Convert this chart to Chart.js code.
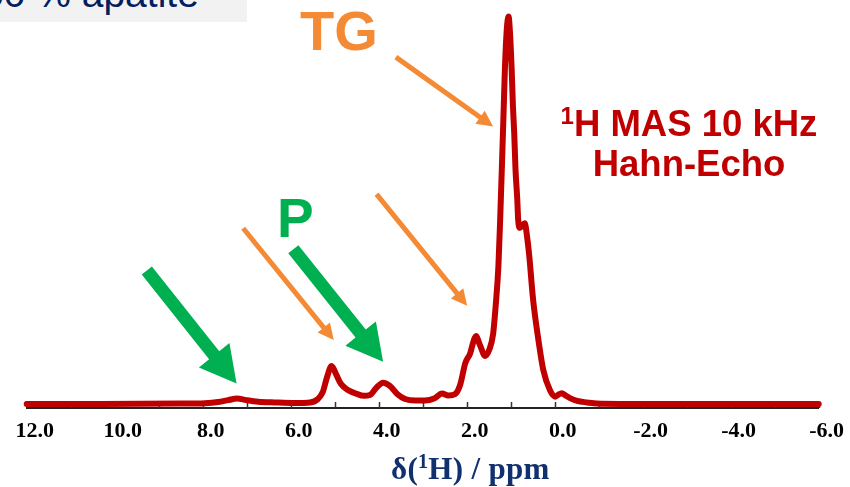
<!DOCTYPE html>
<html><head><meta charset="utf-8">
<script src="https://cdn.jsdelivr.net/npm/chart.js@4/dist/chart.umd.min.js"></script>
<style>
html,body{margin:0;padding:0;background:#fff;overflow:hidden;}
#wrap{position:relative;width:850px;height:487px;overflow:hidden;}
canvas{position:absolute;left:0;top:0;}
.lbl{position:absolute;white-space:nowrap;}
</style></head><body>
<div id="wrap">
  <div id="box" style="position:absolute;left:0;top:0;width:247px;height:22px;background:#f2f2f2;overflow:hidden;">
    <div class="lbl" style="left:-18px;top:-26px;font:39px 'Liberation Sans',Arial,sans-serif;line-height:39px;color:#002060;">50 % apatite</div>
  </div>
  <canvas id="c" width="850" height="487"></canvas>
  <div class="lbl" style="left:300px;top:3px;font:bold 56px 'Liberation Sans',Arial,sans-serif;line-height:56px;color:#f58a35;">TG</div>
  <div class="lbl" style="left:277px;top:191px;font:bold 55px 'Liberation Sans',Arial,sans-serif;line-height:55px;color:#00b050;">P</div>
  <div class="lbl" style="left:539px;top:104px;width:300px;text-align:center;font:bold 36.5px 'Liberation Sans',Arial,sans-serif;line-height:40px;color:#c00000;"><sup style="font-size:24px;line-height:0;vertical-align:12px;">1</sup>H MAS 10 kHz<br>Hahn-Echo</div>
  <div class="lbl" style="left:391px;top:453px;font:bold 31px 'Liberation Serif','Times New Roman',serif;line-height:31px;color:#10306e;letter-spacing:0.3px;">δ(<sup style="font-size:20px;line-height:0;vertical-align:11px;">1</sup>H) / ppm</div>
</div>
<script>
// ---- data ----
const ppm = [12.0, 10.33, 8.52, 7.95, 7.65, 7.42, 7.22, 7.01, 6.74, 6.36, 5.90, 5.56, 5.38, 5.27, 5.18, 5.07, 4.97, 4.86, 4.70, 4.52, 4.33, 4.20, 4.06, 3.90, 3.74, 3.58, 3.40, 3.17, 2.95, 2.74, 2.56, 2.42, 2.26, 2.15, 2.03, 1.92, 1.85, 1.79, 1.70, 1.58, 1.49, 1.40, 1.34, 1.28, 1.24, 1.20, 1.16, 1.13, 1.09, 1.05, 1.02, 0.98, 0.95, 0.92, 0.89, 0.85, 0.83, 0.79, 0.75, 0.68, 0.63, 0.58, 0.49, 0.37, 0.26, 0.11, -0.01, -0.07, -0.16, -0.25, -0.35, -0.51, -0.74, -0.96, -1.49, -6.0];
const intensity = [0, 0, 0.1, 0.2, 0.5, 1.0, 1.4, 1.0, 0.6, 0.4, 0.25, 0.4, 1.3, 3.1, 6.7, 9.8, 7.7, 5.2, 3.6, 2.7, 2.1, 2.3, 4.1, 5.5, 4.6, 2.6, 1.3, 0.9, 0.9, 1.4, 2.7, 2.2, 2.6, 4.9, 10.6, 13.1, 16.0, 17.5, 15.2, 12.4, 13.9, 18.0, 25.5, 35.4, 47.4, 61.2, 75.8, 86.9, 96.4, 99.9, 96.4, 86.9, 77, 69.8, 60.3, 52.6, 47.4, 45.4, 45.9, 46.6, 43.3, 38.4, 26.8, 16.5, 8.8, 3.6, 1.9, 2.3, 2.8, 2.2, 1.5, 0.8, 0.4, 0.1, 0, 0];
const labeledTicks = [12, 10, 8, 6, 4, 2, 0, -2, -4, -6];
const tickLabels = ['12.0', '10.0', '8.0', '6.0', '4.0', '2.0', '0.0', '-2.0', '-4.0', '-6.0'];
// arrows: [from ppm, from intensity, to ppm, to intensity]
const greenArrows = [[9.27, 34.4, 7.23, 5.3], [5.94, 39.9, 3.90, 10.9]];
const orangeArrows = [[7.08, 45.3, 5.02, 16.5], [4.05, 54.1, 1.99, 25.3], [3.61, 89.4, 1.40, 71.5]];

const points = ppm.map((p, i) => ({x: p, y: intensity[i]}));

function drawArrow(c, x0, y0, x1, y1, w, hw, hl, color) {
  const dx = x1 - x0, dy = y1 - y0, L = Math.hypot(dx, dy);
  const ux = dx / L, uy = dy / L, nx = -uy, ny = ux;
  const bx = x1 - ux * hl, by = y1 - uy * hl;
  c.beginPath();
  c.moveTo(x0 + nx * w / 2, y0 + ny * w / 2);
  c.lineTo(bx + nx * w / 2, by + ny * w / 2);
  c.lineTo(bx + nx * hw / 2, by + ny * hw / 2);
  c.lineTo(x1, y1);
  c.lineTo(bx - nx * hw / 2, by - ny * hw / 2);
  c.lineTo(bx - nx * w / 2, by - ny * w / 2);
  c.lineTo(x0 - nx * w / 2, y0 - ny * w / 2);
  c.closePath();
  c.fillStyle = color;
  c.fill();
}

const extras = {
  id: 'extras',
  beforeDatasetsDraw(chart) {
    const xs = chart.scales.x, ca = chart.chartArea, c = chart.ctx;
    c.save();
    c.strokeStyle = '#333'; c.lineWidth = 1.5;
    xs.ticks.forEach(t => {
      const px = Math.round(xs.getPixelForValue(t.value)) + 0.5;
      c.beginPath(); c.moveTo(px, ca.bottom); c.lineTo(px, ca.bottom - 6); c.stroke();
    });
    c.restore();
  },
  afterDatasetsDraw(chart) {
    const xs = chart.scales.x, ys = chart.scales.y, c = chart.ctx;
    c.save();
    orangeArrows.forEach(a => drawArrow(c, xs.getPixelForValue(a[0]), ys.getPixelForValue(a[1]), xs.getPixelForValue(a[2]), ys.getPixelForValue(a[3]), 5, 16, 16, '#f58a35'));
    greenArrows.forEach(a => drawArrow(c, xs.getPixelForValue(a[0]), ys.getPixelForValue(a[1]), xs.getPixelForValue(a[2]), ys.getPixelForValue(a[3]), 13, 39, 36, '#00b050'));
    c.restore();
  }
};

new Chart(document.getElementById('c'), {
  type: 'line',
  data: { datasets: [{ data: points, borderColor: '#c00000', borderWidth: 6, pointRadius: 0, fill: false, cubicInterpolationMode: 'monotone', borderJoinStyle: 'round', borderCapStyle: 'round', clip: false }] },
  options: {
    responsive: false, animation: false, devicePixelRatio: 1,
    layout: { padding: { left: 26.7, right: 31.3, top: 8.5, bottom: 0 } },
    plugins: { legend: { display: false }, tooltip: { enabled: false }, title: { display: false } },
    scales: {
      x: {
        type: 'linear', reverse: true, min: -6, max: 12,
        border: { display: true, color: '#222', width: 2 },
        grid: { display: true, drawOnChartArea: false, drawTicks: false, color: 'rgba(0,0,0,0)' },
        ticks: {
          stepSize: 1, autoSkip: false, maxRotation: 0, minRotation: 0, padding: 10, labelOffset: 8,
          color: '#000', font: { family: "'Liberation Serif','Times New Roman',serif", size: 22, weight: 'bold' },
          callback: (v) => { const i = labeledTicks.indexOf(v); return i >= 0 ? tickLabels[i] : ''; }
        },
        afterFit: (s) => { s.height = 79; s.paddingLeft = 0; s.paddingRight = 0; }
      },
      y: { display: false, min: -1.03, max: 101.93 }
    }
  },
  plugins: [extras]
});
</script>
</body></html>
